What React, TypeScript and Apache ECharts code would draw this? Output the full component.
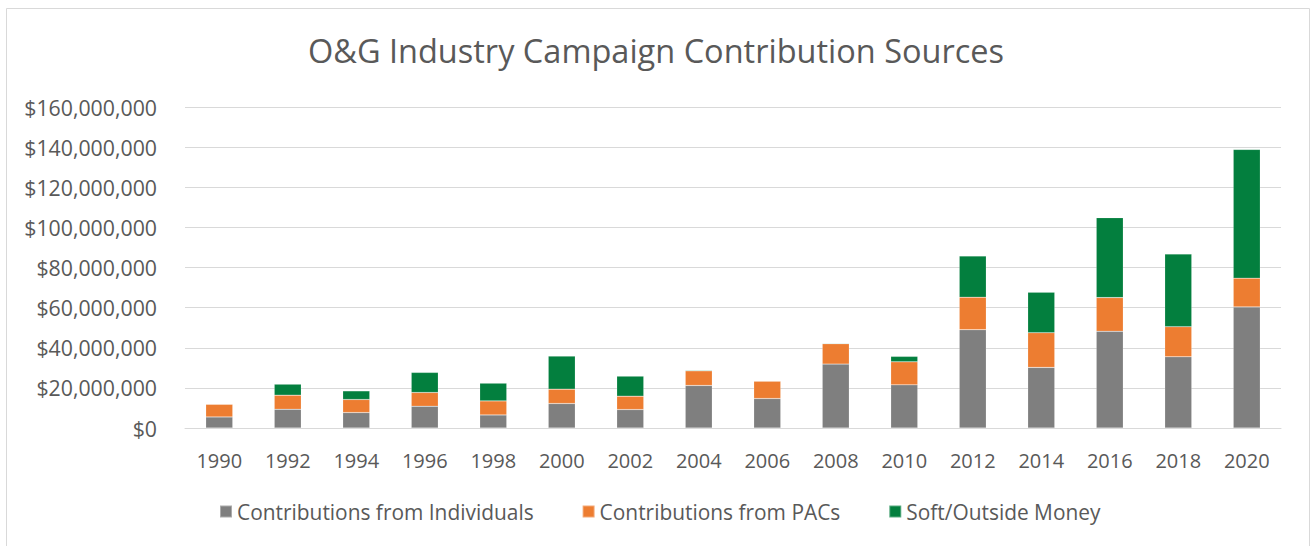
import React, { useEffect, useRef } from "react";
import * as echarts from "echarts";

const years = ["1990","1992","1994","1996","1998","2000","2002","2004","2006","2008","2010","2012","2014","2016","2018","2020"];
const individuals = [5.5, 9.35, 7.7, 10.85, 6.5, 12.2, 9.2, 21.2, 14.7, 31.85, 21.5, 49.0, 30.2, 48.2, 35.5, 60.35].map(v => v * 1e6);
const pacs = [6.35, 7.0, 6.5, 6.85, 7.0, 7.15, 6.65, 7.3, 8.65, 10.15, 11.5, 16.2, 17.3, 16.8, 15.0, 14.35].map(v => v * 1e6);
const softMoney = [0, 5.5, 4.3, 10.0, 8.85, 16.5, 10.0, 0.35, 0.2, 0.3, 2.7, 20.5, 20.2, 39.85, 36.2, 64.15].map(v => v * 1e6);
const seriesNames = ["Contributions from Individuals", "Contributions from PACs", "Soft/Outside Money"];
const colors = ["#7F7F7F", "#ED7D31", "#037F3E"];

const FONT = "'Open Sans', sans-serif";
const TXT = "#595959";

export default function App() {
  const ref = useRef<HTMLDivElement>(null);
  useEffect(() => {
    if (!ref.current) return;
    const chart = echarts.init(ref.current, null, { renderer: "svg" });
    const fmt = (v: number) => "$" + v.toLocaleString("en-US");
    const data = [individuals, pacs, softMoney];
    chart.setOption({
      animation: false,
      backgroundColor: "#ffffff",
      title: {
        text: "O&G Industry Campaign Contribution Sources",
        left: "center",
        top: 29,
        textStyle: { fontFamily: FONT, fontSize: 32.5, fontWeight: "normal", color: TXT },
      },
      graphic: [
        {
          type: "rect",
          shape: { x: 6.5, y: 8.5, width: 1303, height: 560 },
          style: { fill: "none", stroke: "#D9D9D9", lineWidth: 1 },
          silent: true,
        },
      ],
      legend: {
        left: 214,
        top: 496,
        itemWidth: 12,
        itemHeight: 12,
        itemGap: 48,
        icon: "rect",
        textStyle: { fontFamily: FONT, fontSize: 20.9, color: TXT, padding: [0, 0, 0, 0] },
        data: seriesNames,
      },
      grid: { left: 185, right: 31, top: 107, bottom: 546 - 428, containLabel: false },
      xAxis: {
        type: "category",
        data: years,
        axisLine: { lineStyle: { color: "#D9D9D9", width: 1 } },
        axisTick: { show: false },
        axisLabel: { fontFamily: FONT, fontSize: 20, color: TXT, margin: 22 },
      },
      yAxis: {
        type: "value",
        min: 0,
        max: 160000000,
        interval: 20000000,
        axisLine: { show: false },
        axisTick: { show: false },
        splitLine: { lineStyle: { color: "#D9D9D9", width: 1 } },
        axisLabel: { fontFamily: FONT, fontSize: 21.3, color: TXT, margin: 28, formatter: fmt },
      },
      series: seriesNames.map((name, i) => ({
        name,
        type: "bar",
        stack: "total",
        barWidth: 27,
        itemStyle: { color: colors[i], borderColor: "rgba(255,255,255,0.35)", borderWidth: 0.5 },
        data: data[i],
      })),
    });
    return () => chart.dispose();
  }, []);
  return (
    <div
      ref={ref}
      style={{ position: "fixed", left: 0, top: 0, width: 1312, height: 546, background: "#fff" }}
    />
  );
}
